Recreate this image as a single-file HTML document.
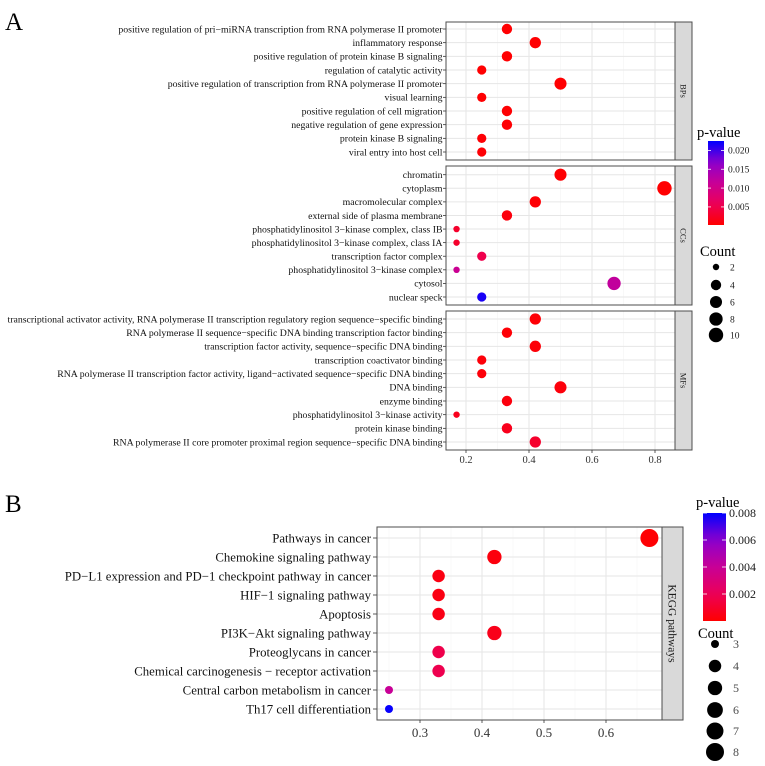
<!DOCTYPE html>
<html><head><meta charset="utf-8"><style>
html,body{margin:0;padding:0;background:#fff}
svg{display:block;font-family:"Liberation Serif",serif}
</style></head><body>
<svg id="fig" width="765" height="766" viewBox="0 0 765 766" xmlns="http://www.w3.org/2000/svg">
<defs></defs>
<rect width="765" height="766" fill="#fff"/>
<text x="5" y="30" font-size="25">A</text>
<text x="5" y="512" font-size="25">B</text>
<g id="gA"></g><g id="gB"></g>
</svg>
<script>
// ---- Panel A data ----
const bpTerms = ["positive regulation of pri\u2212miRNA transcription from RNA polymerase II promoter","inflammatory response","positive regulation of protein kinase B signaling","regulation of catalytic activity","positive regulation of transcription from RNA polymerase II promoter","visual learning","positive regulation of cell migration","negative regulation of gene expression","protein kinase B signaling","viral entry into host cell"];
const bpRatio = [0.33,0.42,0.33,0.25,0.5,0.25,0.33,0.33,0.25,0.25];
const bpCount = [4,5,4,3,6,3,4,4,3,3];
const bpP = [0.0003,0.0003,0.0003,0.0003,0.0003,0.0003,0.0004,0.0004,0.0005,0.0005];
const ccTerms = ["chromatin","cytoplasm","macromolecular complex","external side of plasma membrane","phosphatidylinositol 3\u2212kinase complex, class IB","phosphatidylinositol 3\u2212kinase complex, class IA","transcription factor complex","phosphatidylinositol 3\u2212kinase complex","cytosol","nuclear speck"];
const ccRatio = [0.5,0.83,0.42,0.33,0.17,0.17,0.25,0.17,0.67,0.25];
const ccCount = [6,10,5,4,2,2,3,2,8,3];
const ccP = [0.0004,0.0003,0.0005,0.001,0.003,0.003,0.005,0.011,0.012,0.0215];
const mfTerms = ["transcriptional activator activity, RNA polymerase II transcription regulatory region sequence\u2212specific binding","RNA polymerase II sequence\u2212specific DNA binding transcription factor binding","transcription factor activity, sequence\u2212specific DNA binding","transcription coactivator binding","RNA polymerase II transcription factor activity, ligand\u2212activated sequence\u2212specific DNA binding","DNA binding","enzyme binding","phosphatidylinositol 3\u2212kinase activity","protein kinase binding","RNA polymerase II core promoter proximal region sequence\u2212specific DNA binding"];
const mfRatio = [0.42,0.33,0.42,0.25,0.25,0.5,0.33,0.17,0.33,0.42];
const mfCount = [5,4,5,3,3,6,4,2,4,5];
const mfP = [0.0006,0.0006,0.0007,0.0008,0.0008,0.0009,0.001,0.002,0.002,0.003];
const aTicks = [0.2,0.4,0.6,0.8];
const aPTicks = [0.005,0.010,0.015,0.020];
const aCountLegend = [2,4,6,8,10];
// ---- Panel B data ----
const kTerms = ["Pathways in cancer","Chemokine signaling pathway","PD\u2212L1 expression and PD\u22121 checkpoint pathway in cancer","HIF\u22121 signaling pathway","Apoptosis","PI3K\u2212Akt signaling pathway","Proteoglycans in cancer","Chemical carcinogenesis \u2212 receptor activation","Central carbon metabolism in cancer","Th17 cell differentiation"];
const kRatio = [0.67,0.42,0.33,0.33,0.33,0.42,0.33,0.33,0.25,0.25];
const kCount = [8,5,4,4,4,5,4,4,3,3];
const kP = [0.0001,0.0003,0.0004,0.0004,0.0005,0.0006,0.0017,0.0018,0.004,0.0079];
const bTicks = [0.3,0.4,0.5,0.6];
const bPTicks = [0.002,0.004,0.006,0.008];
const bCountLegend = [3,4,5,6,7,8];

const NS="http://www.w3.org/2000/svg";
function el(parent,tag,attrs,txt){const e=document.createElementNS(NS,tag);for(const k in attrs)e.setAttribute(k,attrs[k]);if(txt!==undefined)e.textContent=txt;parent.appendChild(e);return e;}
const stops=[[0,[255,0,0]],[0.25,[236,0,88]],[0.5,[200,0,150]],[0.75,[140,0,205]],[1,[0,0,255]]];
function pcol(t){t=Math.max(0,Math.min(1,t));for(let i=1;i<stops.length;i++){if(t<=stops[i][0]){const a=stops[i-1],b=stops[i];const f=(t-a[0])/(b[0]-a[0]);const c=a[1].map((v,j)=>Math.round(v+(b[1][j]-v)*f));return `rgb(${c[0]},${c[1]},${c[2]})`;}}return "rgb(0,0,255)";}
const defs=document.querySelector('defs');

// ===== Panel A =====
const gA=document.getElementById('gA');
const ax0=446, ax1=675;
const xA=v=>466+(v-0.2)*315;
const pMinA=0.0002,pMaxA=0.0225;
const rA=c=>3.2+Math.sqrt((c-2)/8)*(7.2-3.2);
const facets=[{name:"BPs",top:22,bot:160,r0:29,r1:152,terms:bpTerms,ratio:bpRatio,count:bpCount,p:bpP},
 {name:"CCs",top:166,bot:305,r0:174.7,r1:297,terms:ccTerms,ratio:ccRatio,count:ccCount,p:ccP},
 {name:"MFs",top:311,bot:450,r0:319,r1:442,terms:mfTerms,ratio:mfRatio,count:mfCount,p:mfP}];
facets.forEach(f=>{
  const g=el(gA,'g',{});
  
  
  el(g,'rect',{x:ax0,y:f.top,width:ax1-ax0,height:f.bot-f.top,fill:'#fff'});
  [0.3,0.5,0.7].forEach(v=>el(g,'line',{x1:xA(v),x2:xA(v),y1:f.top,y2:f.bot,stroke:'#f3f3f3','stroke-width':0.6}));
  aTicks.forEach(v=>el(g,'line',{x1:xA(v),x2:xA(v),y1:f.top,y2:f.bot,stroke:'#e6e6e6','stroke-width':1}));
  const step=(f.r1-f.r0)/(f.terms.length-1);
  f.terms.forEach((t,i)=>{
    const y=f.r0+i*step;
    el(g,'line',{x1:ax0,x2:ax1,y1:y,y2:y,stroke:'#e6e6e6','stroke-width':1});
    el(g,'line',{x1:ax0-3,x2:ax0,y1:y,y2:y,stroke:'#333','stroke-width':0.8});
    const lb=el(g,'text',{x:ax0-3.5,y:y+3.3,'font-size':9.8,'text-anchor':'end',fill:'#111'},t);
    
    
  });
  f.terms.forEach((t,i)=>{
    const y=f.r0+i*step;
    const c=el(g,'circle',{cx:xA(f.ratio[i]),cy:y,r:rA(f.count[i]),fill:pcol((f.p[i]-pMinA)/(pMaxA-pMinA))});
    
    
  });
  el(g,'rect',{x:ax0,y:f.top,width:ax1-ax0,height:f.bot-f.top,fill:'none',stroke:'#4d4d4d','stroke-width':1});
  const st=el(g,'rect',{x:ax1,y:f.top,width:17,height:f.bot-f.top,fill:'#d9d9d9',stroke:'#4d4d4d','stroke-width':1});
  
  
  const cy=(f.top+f.bot)/2;
  el(g,'text',{x:ax1+8.5,y:cy,'font-size':8.5,'text-anchor':'middle',fill:'#1a1a1a',transform:`rotate(90 ${ax1+8.5} ${cy}) translate(0 3)`},f.name);
});
aTicks.forEach(v=>{
  el(gA,'line',{x1:xA(v),x2:xA(v),y1:450,y2:453,stroke:'#333','stroke-width':0.8});
  const t=el(gA,'text',{x:xA(v),y:463,'font-size':10.5,'text-anchor':'middle',fill:'#333'},v.toFixed(1));
  
  
});
(function(){
  const lg=el(gA,'g',{});
  
  
  el(lg,'text',{x:697,y:137,'font-size':14.5},'p-value');
  const dA=el(defs,'linearGradient',{id:'gradA',x1:0,y1:1,x2:0,y2:0});
  for(let i=0;i<=10;i++)el(dA,'stop',{offset:i/10,'stop-color':pcol(i/10)});
  const top=141,bot=225;
  const yP=p=>bot-(p-pMinA)/(pMaxA-pMinA)*(bot-top);
  el(lg,'rect',{x:708,y:top,width:16,height:bot-top,fill:'url(#gradA)'});
  aPTicks.forEach(p=>{
    el(lg,'line',{x1:708,x2:711,y1:yP(p),y2:yP(p),stroke:'#fff','stroke-width':0.8});
    el(lg,'line',{x1:721,x2:724,y1:yP(p),y2:yP(p),stroke:'#fff','stroke-width':0.8});
    el(lg,'text',{x:728,y:yP(p)+3.3,'font-size':9.5,fill:'#1a1a1a'},p.toFixed(3));
  });
  el(lg,'text',{x:700,y:256,'font-size':14.5},'Count');
  const ys=[267,285,302,319,335];
  aCountLegend.forEach((c,i)=>{
    el(lg,'circle',{cx:716,cy:ys[i],r:rA(c),fill:'#000'});
    el(lg,'text',{x:730,y:ys[i]+3.3,'font-size':9.5,fill:'#1a1a1a'},String(c));
  });
})();

// ===== Panel B =====
const gB=document.getElementById('gB');
const bx0=377,bx1=662,by0=527,by1=720;
const xB=v=>420+(v-0.3)*620;
const pMinB=0,pMaxB=0.008;
const rB=c=>4+Math.sqrt((c-3)/5)*(9-4);
el(gB,'rect',{x:bx0,y:by0,width:bx1-bx0,height:by1-by0,fill:'#fff'});
[0.25,0.35,0.45,0.55,0.65].forEach(v=>el(gB,'line',{x1:xB(v),x2:xB(v),y1:by0,y2:by1,stroke:'#f3f3f3','stroke-width':0.6}));
bTicks.forEach(v=>el(gB,'line',{x1:xB(v),x2:xB(v),y1:by0,y2:by1,stroke:'#e6e6e6','stroke-width':1}));
const kStep=(709-538)/(kTerms.length-1);
kTerms.forEach((t,i)=>{
  const y=538+i*kStep;
  el(gB,'line',{x1:bx0,x2:bx1,y1:y,y2:y,stroke:'#e6e6e6','stroke-width':1});
  el(gB,'line',{x1:bx0-4,x2:bx0,y1:y,y2:y,stroke:'#333','stroke-width':0.8});
  const lb=el(gB,'text',{x:bx0-6,y:y+4.4,'font-size':12.8,'text-anchor':'end',fill:'#111'},t);
  
  
});
kTerms.forEach((t,i)=>{
  const y=538+i*kStep;
  const c=el(gB,'circle',{cx:xB(kRatio[i]),cy:y,r:rB(kCount[i]),fill:pcol((kP[i]-pMinB)/(pMaxB-pMinB))});
  
  
});
el(gB,'rect',{x:bx0,y:by0,width:bx1-bx0,height:by1-by0,fill:'none',stroke:'#4d4d4d','stroke-width':1});
(function(){
  const st=el(gB,'rect',{x:bx1,y:by0,width:21,height:by1-by0,fill:'#d9d9d9',stroke:'#4d4d4d','stroke-width':1});
  
  
  const cy=(by0+by1)/2,cx=bx1+10.5;
  el(gB,'text',{x:cx,y:cy,'font-size':11.5,'text-anchor':'middle',fill:'#1a1a1a',transform:`rotate(90 ${cx} ${cy}) translate(0 4)`},'KEGG pathways');
})();
bTicks.forEach(v=>{
  el(gB,'line',{x1:xB(v),x2:xB(v),y1:by1,y2:by1+3,stroke:'#333','stroke-width':0.8});
  const t=el(gB,'text',{x:xB(v),y:737,'font-size':13,'text-anchor':'middle',fill:'#333'},v.toFixed(1));
  
  
});
(function(){
  const lg=el(gB,'g',{});
  
  
  el(lg,'text',{x:696,y:507,'font-size':14.5},'p-value');
  const d=el(defs,'linearGradient',{id:'gradB',x1:0,y1:1,x2:0,y2:0});
  for(let i=0;i<=10;i++)el(d,'stop',{offset:i/10,'stop-color':pcol(i/10)});
  const top=513,bot=621;
  const yP=p=>bot-(p-pMinB)/(pMaxB-pMinB)*(bot-top);
  el(lg,'rect',{x:703,y:top,width:23,height:bot-top,fill:'url(#gradB)'});
  bPTicks.forEach(p=>{
    el(lg,'line',{x1:703,x2:707,y1:yP(p),y2:yP(p),stroke:'#fff','stroke-width':0.8});
    el(lg,'line',{x1:722,x2:726,y1:yP(p),y2:yP(p),stroke:'#fff','stroke-width':0.8});
    el(lg,'text',{x:729,y:yP(p)+4,'font-size':12,fill:'#1a1a1a'},p.toFixed(3));
  });
  el(lg,'text',{x:698,y:638,'font-size':14.5},'Count');
  const ys=[644,666,688,710,731,752];
  bCountLegend.forEach((c,i)=>{
    el(lg,'circle',{cx:715,cy:ys[i],r:rB(c),fill:'#000'});
    el(lg,'text',{x:733,y:ys[i]+4,'font-size':12,fill:'#4d4d4d'},String(c));
  });
})();
</script>
</body></html>
